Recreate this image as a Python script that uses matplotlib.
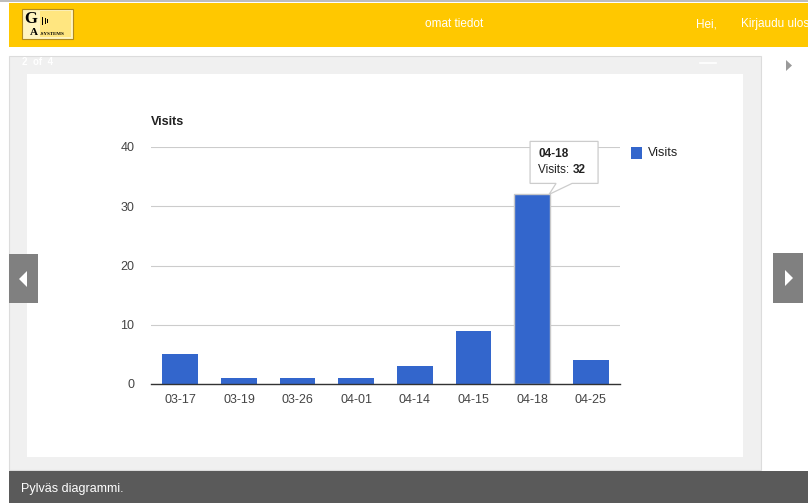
import matplotlib
matplotlib.use("Agg")
import matplotlib.pyplot as plt
from matplotlib.patches import Rectangle, Polygon
import numpy as np

# --- data -----------------------------------------------------------------
categories = ["03-17", "03-19", "03-26", "04-01", "04-14", "04-15", "04-18", "04-25"]
visits = [5, 1, 1, 1, 3, 9, 32, 4]
y_ticks = [0, 10, 20, 30, 40]
series_name = "Visits"
highlight_index = 6  # bar currently hovered

W, H = 808, 503
plt.rcParams["font.family"] = ["Liberation Sans", "DejaVu Sans"]
NARROW = ["Liberation Sans Narrow", "Liberation Sans", "DejaVu Sans"]

fig = plt.figure(figsize=(W / 100, H / 100), dpi=100)
fig.patch.set_facecolor("white")


def px_axes(zorder):
    ax = fig.add_axes([0, 0, 1, 1], zorder=zorder)
    ax.set_xlim(0, W)
    ax.set_ylim(H, 0)
    ax.axis("off")
    ax.patch.set_alpha(0)
    return ax


# --- page chrome ------------------------------------------------------------
bg = px_axes(0)
bg.add_patch(Rectangle((0, 0), W, 1.5, color="#bdbdbd", lw=0))
bg.add_patch(Rectangle((9, 3), W - 9, 44, color="#ffc800", lw=0))

# logo
bg.add_patch(Rectangle((22, 9), 51, 30, facecolor="#fff4c0", edgecolor="#b08a20", lw=0.8))
bg.add_patch(Rectangle((40, 11), 31, 26, facecolor="#ffe680", lw=0))
bg.text(24, 18.5, "G", fontsize=12, fontweight="bold", family="Liberation Serif",
        color="black", va="center", ha="left")
bg.text(30, 32, "A", fontsize=8, fontweight="bold", family="Liberation Serif",
        color="black", va="center", ha="left")
bg.text(40, 33.5, "-SYSTEMS", fontsize=3.6, fontweight="bold", family="Liberation Serif",
        color="black", va="center", ha="left")
for i, hgt in enumerate([8, 6, 4]):
    bg.add_patch(Rectangle((42 + i * 2.5, 21 - hgt / 2), 1.4, hgt, color="black", lw=0))

bg.text(454, 24, "omat tiedot", fontsize=8.5, color="white", family=NARROW,
        ha="center", va="center")
bg.text(706, 24, "Hei,", fontsize=8.5, color="white", family=NARROW,
        ha="center", va="center")
bg.text(741, 24, "Kirjaudu ulos", fontsize=8.5, color="white", family=NARROW,
        ha="left", va="center")

# slide panel
bg.add_patch(Rectangle((9, 56), 752, 414, facecolor="#f0f0f0", edgecolor="#dcdcdc", lw=0.8))
bg.add_patch(Rectangle((27, 74), 716, 383, facecolor="white", lw=0))
bg.text(22, 61.5, "2  of  4", fontsize=7, color="white", fontweight="bold",
        family=NARROW, va="center", ha="left")
bg.plot([700, 716], [63, 63], color="white", lw=1.2)

# navigation arrows
bg.add_patch(Polygon([[786, 60], [786, 71], [792, 65.5]], color="#9a9a9a", lw=0))
bg.add_patch(Rectangle((9, 254), 29, 49, color="#808080", lw=0))
bg.add_patch(Polygon([[27, 271], [27, 287], [19, 279]], color="white", lw=0))
bg.add_patch(Rectangle((773, 253), 30, 50, color="#808080", lw=0))
bg.add_patch(Polygon([[785, 270], [785, 286], [793, 278]], color="white", lw=0))

# caption bar
bg.add_patch(Rectangle((9, 471), W - 9, H - 471, color="#5a5a5a", lw=0))
bg.text(21, 489, "Pylväs diagrammi.", fontsize=9, color="white", family=NARROW,
        va="center", ha="left")

# --- bar chart --------------------------------------------------------------
left, right, top, bottom = 151, 620, 147, 384
ax = fig.add_axes([left / W, 1 - bottom / H, (right - left) / W, (bottom - top) / H], zorder=1)
ax.patch.set_alpha(0)
x = np.arange(len(categories))
bars = ax.bar(x, visits, width=0.61, color="#3366cc", zorder=3)
bars[highlight_index].set_edgecolor("#c8c8c8")
bars[highlight_index].set_linewidth(1.0)
ax.set_xlim(-0.5, len(categories) - 0.5)
ax.set_ylim(0, 40)
ax.set_yticks(y_ticks)
ax.set_xticks(x)
ax.set_xticklabels(categories)
for s in ["top", "right", "left"]:
    ax.spines[s].set_visible(False)
ax.spines["bottom"].set_color("#333333")
ax.spines["bottom"].set_linewidth(1.0)
ax.spines["bottom"].set_zorder(4)
ax.grid(axis="y", color="#cccccc", lw=0.8, zorder=0)
ax.tick_params(axis="both", length=0, labelsize=9, labelcolor="#444444")
ax.tick_params(axis="y", pad=12)
ax.tick_params(axis="x", pad=7)
ax.text(0, 1.105, series_name, transform=ax.transAxes, fontsize=9,
        fontweight="bold", color="#222222", ha="left", va="center")

# legend
ov = px_axes(5)
ov.add_patch(Rectangle((631, 147), 11, 12, color="#3366cc", lw=0))
ov.text(648, 153, series_name, fontsize=9, color="#222222", va="center", ha="left")

# tooltip for the hovered bar
disp = ax.transData.transform((x[highlight_index], visits[highlight_index]))
bx = disp[0]
by = H - disp[1]
tip = Polygon([[bx - 2, by - 53], [bx + 66, by - 53], [bx + 66, by - 11],
               [bx + 40, by - 11], [bx + 17, by], [bx + 24, by - 11],
               [bx - 2, by - 11]], closed=True,
              facecolor="white", edgecolor="#cccccc", lw=0.9)
ov.add_patch(tip)
ov.text(bx + 6, by - 40, categories[highlight_index], fontsize=8.5, fontweight="bold",
        color="#222222", va="center", ha="left")
t1 = ov.text(bx + 6, by - 24, f"{series_name}: ", fontsize=8.5, color="#222222",
             va="center", ha="left")
fig.canvas.draw()
bb = t1.get_window_extent()
x_end = ov.transData.inverted().transform((bb.x1, 0))[0]
ov.text(x_end, by - 24, f"{visits[highlight_index]}", fontsize=8.5, fontweight="bold",
        color="#222222", va="center", ha="left")

fig.savefig("out.png", dpi=100)
